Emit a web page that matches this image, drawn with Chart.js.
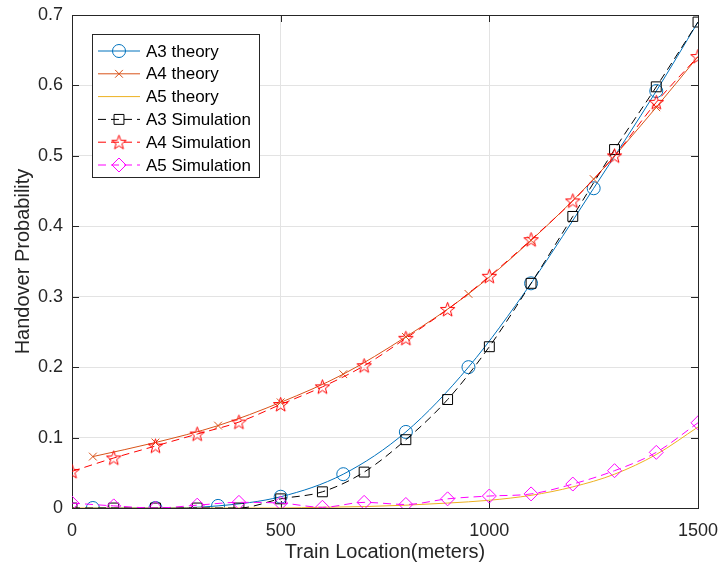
<!DOCTYPE html>
<html>
<head>
<meta charset="utf-8">
<script src="https://cdn.jsdelivr.net/npm/chart.js@4.4.0/dist/chart.umd.min.js"></script>
<style>
  body { margin: 0; background: #fff; }
</style>
</head>
<body>
<canvas id="myChart" width="721" height="572"></canvas>
<script>
// theory curves: marker positions every 150 m, plus the end point
var theoryX = [50, 200, 350, 500, 650, 800, 950, 1100, 1250, 1400, 1500];
var a3Theory = [0, 0, 0.003, 0.016, 0.048, 0.108, 0.2, 0.319, 0.454, 0.592, 0.69];
var a4Theory = [0.073, 0.093, 0.117, 0.150, 0.19, 0.243, 0.304, 0.38, 0.467, 0.569, 0.641];

// simulation points every 100 m
var simX = [0, 100, 200, 300, 400, 500, 600, 700, 800, 900, 1000, 1100, 1200, 1300, 1400, 1500];
var a5Theory = [0, 0, 0, 0, 0, 0, 0.001, 0.002, 0.004, 0.007, 0.011, 0.018, 0.03, 0.048, 0.076, 0.115];
var a3Sim = [0, 0, 0, 0, 0, 0.013, 0.023, 0.051, 0.097, 0.154, 0.229, 0.319, 0.414, 0.509, 0.598, 0.69];
var a4Sim = [0.052, 0.071, 0.088, 0.105, 0.122, 0.147, 0.172, 0.202, 0.241, 0.282, 0.329, 0.381, 0.436, 0.5, 0.576, 0.641];
var a5Sim = [0.007, 0.003, 0, 0.004, 0.008, 0.007, 0.001, 0.008, 0.005, 0.013, 0.017, 0.02, 0.034, 0.053, 0.079, 0.121];

var xTickLabels = ['0', '500', '1000', '1500'];
var yTickLabels = ['0', '0.1', '0.2', '0.3', '0.4', '0.5', '0.6', '0.7'];

var textColor = '#262626';
var gridColor = '#e3e3e3';

function pts(xs, ys) {
  return xs.map(function (x, i) { return { x: x, y: ys[i] }; });
}

// five-pointed star marker (Chart.js has no pentagram)
function makeStar(color) {
  var c = document.createElement('canvas');
  c.width = 17; c.height = 17;
  var g = c.getContext('2d');
  g.strokeStyle = color;
  g.lineWidth = 1;
  g.beginPath();
  for (var i = 0; i < 10; i++) {
    var r = i % 2 ? 3.1 : 7.6;
    var a = -Math.PI / 2 + i * Math.PI / 5;
    var px = 8.5 + r * Math.cos(a), py = 9 + r * Math.sin(a);
    if (i) g.lineTo(px, py); else g.moveTo(px, py);
  }
  g.closePath();
  g.stroke();
  return c;
}
var starImg = makeStar('#ff0000');

// markers on theory curves, none at the last point
var theoryRadius = theoryX.map(function (x) { return x < 1500 ? 6.5 : 0; });

var datasets = [
  { label: 'A3 theory', data: pts(theoryX, a3Theory), borderColor: '#0072BD', pointStyle: 'circle', pointRadius: theoryRadius, dash: [], order: 6 },
  { label: 'A4 theory', data: pts(theoryX, a4Theory), borderColor: '#D95319', pointStyle: 'crossRot', pointRadius: theoryX.map(function (x) { return x < 1500 ? 5.5 : 0; }), dash: [], order: 5 },
  { label: 'A5 theory', data: pts(simX, a5Theory), borderColor: '#EDB120', pointStyle: false, pointRadius: 0, dash: [], order: 4 },
  { label: 'A3 Simulation', data: pts(simX, a3Sim), borderColor: '#000000', pointStyle: 'rect', pointRadius: 7, dash: [8, 5], order: 3 },
  { label: 'A4 Simulation', data: pts(simX, a4Sim), borderColor: '#ff0000', pointStyle: starImg, pointRadius: 7, dash: [8, 5], order: 2 },
  { label: 'A5 Simulation', data: pts(simX, a5Sim), borderColor: '#ff00ff', pointStyle: 'rectRot', pointRadius: 7, dash: [8, 5], order: 1 }
];

datasets.forEach(function (d) {
  d.backgroundColor = 'transparent';
  d.pointBorderColor = d.borderColor;
  d.pointBackgroundColor = 'transparent';
  d.borderWidth = 1;
  d.pointBorderWidth = 1;
  d.borderDash = d.dash;
  d.cubicInterpolationMode = 'monotone';
  d.pointHoverRadius = d.pointRadius;
});

// box with inward ticks on all four sides
var axesBox = {
  id: 'axesBox',
  beforeDatasetsDraw: function (chart) {
    var a = chart.chartArea, c = chart.ctx;
    var xs = chart.scales.x, ys = chart.scales.y;
    c.save();
    c.strokeStyle = textColor;
    c.lineWidth = 1;
    c.beginPath();
    xs.ticks.forEach(function (t) {
      var px = Math.round(xs.getPixelForValue(t.value)) + 0.5;
      c.moveTo(px, a.bottom); c.lineTo(px, a.bottom - 7);
      c.moveTo(px, a.top); c.lineTo(px, a.top + 7);
    });
    ys.ticks.forEach(function (t) {
      var py = Math.round(ys.getPixelForValue(t.value)) + 0.5;
      c.moveTo(a.left, py); c.lineTo(a.left + 7, py);
      c.moveTo(a.right, py); c.lineTo(a.right - 7, py);
    });
    c.stroke();
    c.strokeRect(Math.round(a.left) + 0.5, Math.round(a.top) + 0.5, Math.round(a.right - a.left), Math.round(a.bottom - a.top));
    c.restore();
  }
};

// legend inside the plot, top left
var boxLegend = {
  id: 'boxLegend',
  afterDraw: function (chart) {
    var c = chart.ctx;
    var left = 92.5, top = 34.5, w = 167, h = 143;
    c.save();
    c.fillStyle = '#ffffff';
    c.fillRect(left, top, w, h);
    c.strokeStyle = textColor;
    c.lineWidth = 1;
    c.strokeRect(left, top, w, h);
    datasets.forEach(function (d, i) {
      var y = 51 + i * 22.8;
      c.strokeStyle = d.borderColor;
      c.setLineDash(d.dash);
      c.beginPath();
      c.moveTo(98, y); c.lineTo(140, y);
      c.stroke();
      c.setLineDash([]);
      if (d.pointStyle) {
        c.fillStyle = 'transparent';
        var r = d.pointStyle === 'crossRot' ? 5.5 : (d.pointStyle === 'circle' ? 6.5 : 7);
        Chart.helpers.drawPoint(c, { pointStyle: d.pointStyle, radius: r, rotation: 0, borderWidth: 1 }, 119, y);
      }
      c.fillStyle = '#000000';
      c.font = '17px "Liberation Sans", Arial, sans-serif';
      c.textBaseline = 'middle';
      c.fillText(d.label, 146, y + 1);
    });
    c.restore();
  }
};

var ctx = document.getElementById('myChart').getContext('2d');

var chart = new Chart(ctx, {
  type: 'line',
  data: { datasets: datasets },
  options: {
    responsive: false,
    animation: false,
    devicePixelRatio: 1,
    layout: { padding: { left: 0, top: 15, right: 23, bottom: 0 } },
    plugins: { legend: { display: false }, tooltip: { enabled: false } },
    scales: {
      x: {
        type: 'linear',
        min: 0, max: 1500,
        afterFit: function (s) { s.height = 64; s.paddingLeft = 0; s.paddingRight = 0; },
        grid: { color: gridColor, drawTicks: false },
        border: { display: false },
        ticks: {
          stepSize: 500,
          padding: 12,
          color: textColor,
          font: { family: '"Liberation Sans", Arial, sans-serif', size: 18 },
          callback: function (v, i) { return xTickLabels[i]; }
        },
        title: {
          display: true,
          text: 'Train Location(meters)',
          color: textColor,
          font: { family: '"Liberation Sans", Arial, sans-serif', size: 20 },
          padding: { top: 0, bottom: 8 }
        }
      },
      y: {
        min: 0, max: 0.7,
        afterFit: function (s) { s.width = 72; s.paddingTop = 0; s.paddingBottom = 0; },
        grid: { color: gridColor, drawTicks: false },
        border: { display: false },
        ticks: {
          stepSize: 0.1,
          padding: 9,
          color: textColor,
          font: { family: '"Liberation Sans", Arial, sans-serif', size: 18 },
          callback: function (v, i) { return yTickLabels[i]; }
        },
        title: {
          display: true,
          text: 'Handover Probability',
          color: textColor,
          font: { family: '"Liberation Sans", Arial, sans-serif', size: 20 },
          padding: { top: 11, bottom: 0 }
        }
      }
    }
  },
  plugins: [axesBox, boxLegend]
});
</script>
</body>
</html>
